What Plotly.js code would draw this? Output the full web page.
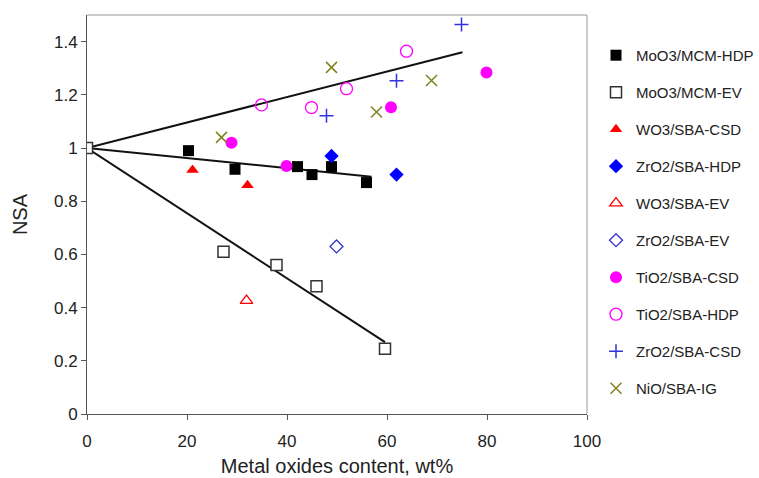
<!DOCTYPE html>
<html>
<head>
<meta charset="utf-8">
<script src="https://cdn.plot.ly/plotly-3.0.1.min.js"></script>
<style>html,body{margin:0;padding:0;background:#fff;}#chart{width:759px;height:478px;}</style>
</head>
<body>
<div id="chart"></div>
<script>
// Series data (x = metal oxides content wt%, y = NSA)
const moo3HdpX = [20.3, 29.6, 42.1, 45.0, 48.9, 55.9];
const moo3HdpY = [0.99, 0.92, 0.93, 0.90, 0.93, 0.87];
const moo3EvX = [0, 27.3, 37.9, 45.9, 59.6];
const moo3EvY = [1.0, 0.61, 0.56, 0.48, 0.245];
const wo3CsdX = [21.1, 32.1];
const wo3CsdY = [0.917, 0.86];
const zro2HdpX = [48.9, 61.9];
const zro2HdpY = [0.97, 0.90];
const wo3EvX = [31.9];
const wo3EvY = [0.426];
const zro2EvX = [49.9];
const zro2EvY = [0.63];
const tio2CsdX = [28.9, 39.9, 60.8, 79.9];
const tio2CsdY = [1.02, 0.932, 1.153, 1.284];
const tio2HdpX = [34.9, 44.9, 51.9, 63.9];
const tio2HdpY = [1.162, 1.152, 1.223, 1.364];
const zro2CsdX = [47.9, 61.9, 74.9];
const zro2CsdY = [1.121, 1.253, 1.464];
const nioX = [26.9, 48.9, 57.9, 68.9];
const nioY = [1.04, 1.303, 1.135, 1.254];
// Trend lines (start, end)
const trendUpX = [0, 75.1];
const trendUpY = [1.0, 1.36];
const trendMidX = [0, 56.9];
const trendMidY = [1.0, 0.892];
const trendDownX = [0, 59.6];
const trendDownY = [1.0, 0.27];

const lineStyle = {color: '#111', width: 2};
const traces = [
  {x: trendUpX, y: trendUpY, mode: 'lines', line: lineStyle, showlegend: false, hoverinfo: 'skip'},
  {x: trendMidX, y: trendMidY, mode: 'lines', line: lineStyle, showlegend: false, hoverinfo: 'skip'},
  {x: trendDownX, y: trendDownY, mode: 'lines', line: lineStyle, showlegend: false, hoverinfo: 'skip'},
  {name: 'MoO3/MCM-HDP', x: moo3HdpX, y: moo3HdpY, mode: 'markers', legendgroup: 'a',
   marker: {symbol: 'square', size: 11, color: '#000'}},
  {name: 'MoO3/MCM-EV', x: moo3EvX, y: moo3EvY, mode: 'markers', legendgroup: 'b',
   marker: {symbol: 'square', size: 11, color: '#fff', line: {color: '#333', width: 1.5}}},
  {name: 'WO3/SBA-CSD', x: wo3CsdX, y: wo3CsdY, mode: 'markers', legendgroup: 'c',
   marker: {symbol: 'triangle-up', size: 11, color: '#ff0000'}},
  {name: 'ZrO2/SBA-HDP', x: zro2HdpX, y: zro2HdpY, mode: 'markers', legendgroup: 'd',
   marker: {symbol: 'diamond', size: 11, color: '#0000ff'}},
  {name: 'WO3/SBA-EV', x: wo3EvX, y: wo3EvY, mode: 'markers', legendgroup: 'e',
   marker: {symbol: 'triangle-up-open', size: 11, color: '#ff0000', line: {width: 1.3}}},
  {name: 'ZrO2/SBA-EV', x: zro2EvX, y: zro2EvY, mode: 'markers', legendgroup: 'f',
   marker: {symbol: 'diamond-open', size: 10, color: '#3333cc', line: {width: 1.3}}},
  {name: 'TiO2/SBA-CSD', x: tio2CsdX, y: tio2CsdY, mode: 'markers', legendgroup: 'g',
   marker: {symbol: 'circle', size: 12, color: '#ff00ff'}},
  {name: 'TiO2/SBA-HDP', x: tio2HdpX, y: tio2HdpY, mode: 'markers', legendgroup: 'h',
   marker: {symbol: 'circle-open', size: 12, color: '#ff00ff', line: {width: 1.3}}},
  {name: 'ZrO2/SBA-CSD', x: zro2CsdX, y: zro2CsdY, mode: 'markers', legendgroup: 'i',
   marker: {symbol: 'cross-thin-open', size: 10, color: '#3333dd', line: {width: 1.5, color: '#3333dd'}}},
  {name: 'NiO/SBA-IG', x: nioX, y: nioY, mode: 'markers', legendgroup: 'j',
   marker: {symbol: 'x-thin-open', size: 11, color: '#808020', line: {width: 1.5, color: '#808020'}}}
];

const font = {family: '"Liberation Sans", Arial, sans-serif', color: '#222'};
const layout = {
  width: 759, height: 478,
  margin: {l: 87, r: 172, t: 15, b: 64, autoexpand: false},
  paper_bgcolor: '#fff', plot_bgcolor: '#fff',
  font: font,
  showlegend: true,
  legend: {x: 1.018, xanchor: 'left', y: 0.94, yanchor: 'top',
    font: {size: 15, family: font.family, color: '#222'},
    traceorder: 'grouped', tracegroupgap: 14.5, itemwidth: 30, bgcolor: 'rgba(0,0,0,0)'},
  xaxis: {range: [0, 100], dtick: 20, tick0: 0, showgrid: false, zeroline: false,
    showline: true, linecolor: '#555', linewidth: 1, mirror: false, automargin: false,
    ticks: 'outside', ticklen: 5, tickcolor: '#555', ticklabelstandoff: 7,
    tickfont: {size: 17, color: '#222'},
    title: {text: 'Metal oxides content, wt%', font: {size: 20, color: '#222'}, standoff: 8}},
  yaxis: {range: [0, 1.5], dtick: 0.2, tick0: 0, showgrid: false, zeroline: false,
    showline: true, linecolor: '#555', linewidth: 1, mirror: false, automargin: false,
    ticks: 'outside', ticklen: 5, tickcolor: '#555',
    tickfont: {size: 17, color: '#222'},
    title: {text: 'NSA', font: {size: 20, color: '#222'}, standoff: 20}},
  shapes: [
    {type: 'line', xref: 'paper', yref: 'paper', x0: 0, x1: 1, y0: 1, y1: 1, line: {color: '#999', width: 1}},
    {type: 'line', xref: 'paper', yref: 'paper', x0: 1, x1: 1, y0: 0, y1: 1, line: {color: '#999', width: 1}}
  ]
};
Plotly.newPlot('chart', traces, layout, {displayModeBar: false, staticPlot: true});
</script>
</body>
</html>
